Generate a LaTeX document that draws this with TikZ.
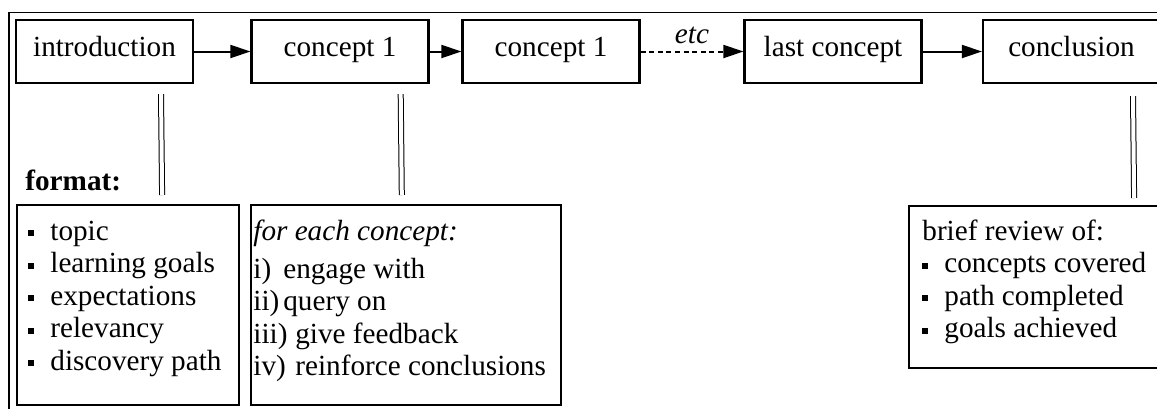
\documentclass[tikz,border=0pt]{standalone}
\usepackage{fontspec}
\setmainfont{Liberation Serif}
\usetikzlibrary{arrows.meta,calc}
\newcommand\sqb{\rule[1.9pt]{2.8pt}{3.1pt}\hspace{8.2pt}}
\begin{document}
\begin{tikzpicture}[x=0.5pt,y=-0.5pt,
  every node/.style={font=\fontsize{14.6}{16.25}\selectfont},
  box/.style={draw,line width=1.1pt,minimum width=88.5pt,minimum height=31.5pt,inner sep=0pt,text height=7pt,text depth=2.5pt},
  lbox/.style={draw,line width=1.1pt,inner sep=0pt,anchor=north west},
  txt/.style={inner sep=0pt,anchor=base west},
  arr/.style={line width=1pt,-{Triangle[length=10pt,width=6.5pt]}},
  dbl/.style={double,line width=0.5pt,double distance=2pt}]
\useasboundingbox (0,0) rectangle (1157,408);
% outer frame (cropped by the page)
\draw[line width=0.8pt] (9,430) -- (9,12.5) -- (1180,12.5);
% top row
\node[box] (intro) at (104.5,51.5) {introduction};
\node[box] (c1) at (340,51.5) {concept 1};
\node[box] (c2) at (551,51.5) {concept 1};
\node[box] (last) at (833,51.5) {last concept};
\node[box] (concl) at (1071.5,51.5) {conclusion};
\draw[arr] (intro) -- (c1);
\draw[arr] (c1) -- (c2);
\draw[arr,dash pattern=on 2.5pt off 1.8pt] (c2) -- node[above=3.5pt,inner sep=0pt] (etc) {\textit{etc}} (last);
\draw[arr] (last) -- (concl);
% lower boxes
\node[lbox,minimum width=111pt,minimum height=100pt] (fmt) at (16,204) {};
\node[lbox,minimum width=155pt,minimum height=100pt] (cbox) at (250,204) {};
\node[lbox,minimum width=128.5pt,minimum height=81pt] (rev) at (908,205) {};
% texts
\node[txt] (fmtlabel) at (25,190) {\textbf{format:}};
\node[txt] (fmtT) at (28,240) {\parbox[t]{105pt}{\sqb topic\\ \sqb learning goals\\ \sqb expectations\\ \sqb relevancy\\ \sqb discovery path}};
\node[txt] (cT) at (253,240) {\parbox[t]{150pt}{\textit{for each concept:}\\[2.75pt]
 \makebox[15pt][l]{i)}engage with\\
 \makebox[15pt][l]{ii)}query on\\
 \makebox[21pt][l]{iii)}give feedback\\
 \makebox[21pt][l]{iv)}reinforce conclusions}};
\node[txt] (revT) at (922,240) {\parbox[t]{120pt}{brief review of:\\ \sqb concepts covered\\ \sqb path completed\\ \sqb goals achieved}};
% double connectors
\draw[dbl] ($(intro.south)+(56.5,10)$) -- ($(fmt.north)+(34,-9)$);
\draw[dbl] ($(c1.south)+(60.7,10)$) -- ($(cbox.north)+(-4.3,-9)$);
\draw[dbl] ($(concl.south)+(61.5,12)$) -- ($(rev.north)+(96.5,-7)$);
\end{tikzpicture}
\end{document}
